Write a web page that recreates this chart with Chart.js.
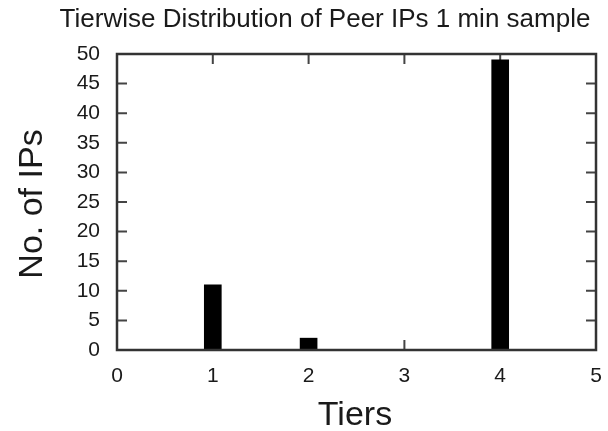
<!DOCTYPE html>
<html>
<head>
<meta charset="utf-8">
<script src="https://cdn.jsdelivr.net/npm/chart.js@4/dist/chart.umd.min.js"></script>
<style>
  html, body { margin: 0; padding: 0; background: #fff; }
  #wrap { width: 608px; height: 431px; }
</style>
</head>
<body>
<div id="wrap"><canvas id="c" width="608" height="431"></canvas></div>
<script>
// Peer IP counts per tier, one-minute sample
const tiers = [1, 2, 4];
const ipCounts = [11, 2, 49];
const xTicks = [0, 1, 2, 3, 4, 5];
const yTicks = [0, 5, 10, 15, 20, 25, 30, 35, 40, 45, 50];

const chartTitle = 'Tierwise Distribution of Peer IPs 1 min sample';
const xTitle = 'Tiers';
const yTitle = 'No. of IPs';

const FONT = '"Liberation Sans", Arial, Helvetica, sans-serif';
const INK = '#1a1a1a';

// Boxed frame with inward ticks on all four sides, gnuplot style
const framePlugin = {
  id: 'frame',
  beforeDatasetsDraw(chart) {
    const { ctx, chartArea: a, scales: { x, y } } = chart;
    ctx.save();
    ctx.strokeStyle = '#444';
    ctx.lineWidth = 2;
    ctx.beginPath();
    const tl = 10;
    yTicks.forEach(v => {
      const py = y.getPixelForValue(v);
      ctx.moveTo(a.left, py); ctx.lineTo(a.left + tl, py);
      ctx.moveTo(a.right, py); ctx.lineTo(a.right - tl, py);
    });
    xTicks.forEach(v => {
      const px = x.getPixelForValue(v);
      ctx.moveTo(px, a.bottom); ctx.lineTo(px, a.bottom - tl);
      ctx.moveTo(px, a.top); ctx.lineTo(px, a.top + tl);
    });
    ctx.stroke();
    ctx.restore();
  },
  afterDatasetsDraw(chart) {
    const { ctx, chartArea: a } = chart;
    ctx.save();
    ctx.strokeStyle = '#333';
    ctx.lineWidth = 2.5;
    ctx.strokeRect(a.left, a.top, a.right - a.left, a.bottom - a.top);
    ctx.restore();
  },
  afterDraw(chart) {
    const { ctx } = chart;
    ctx.save();
    ctx.fillStyle = INK;
    ctx.textAlign = 'center';
    ctx.textBaseline = 'alphabetic';
    ctx.font = '26px ' + FONT;
    ctx.fillText(chartTitle, 325, 27);
    ctx.font = '34px ' + FONT;
    ctx.fillText(xTitle, 355, 425);
    ctx.translate(42, 204);
    ctx.rotate(-Math.PI / 2);
    ctx.fillText(yTitle, 0, 0);
    ctx.restore();
  }
};

new Chart(document.getElementById('c'), {
  type: 'bar',
  data: {
    datasets: [{
      data: tiers.map((t, i) => ({ x: t, y: ipCounts[i] })),
      backgroundColor: '#000',
      borderColor: '#000',
      borderWidth: 0,
      barThickness: 17
    }]
  },
  options: {
    responsive: false,
    animation: false,
    devicePixelRatio: 1,
    layout: { padding: { top: 54, right: 12, left: 0, bottom: 0 } },
    plugins: {
      legend: { display: false },
      title: { display: false },
      tooltip: { enabled: false }
    },
    scales: {
      x: {
        type: 'linear',
        min: 0,
        max: 5,
        offset: false,
        afterFit(s) { s.height = 81; s.paddingLeft = 0; s.paddingRight = 0; },
        afterBuildTicks(s) { s.ticks = xTicks.map(v => ({ value: v })); },
        grid: { display: false, drawTicks: false },
        border: { display: false },
        ticks: { padding: 14, color: INK, font: { family: FONT, size: 21 } }
      },
      y: {
        min: 0,
        max: 50,
        afterFit(s) { s.width = 117; s.paddingTop = 0; s.paddingBottom = 0; },
        afterBuildTicks(s) { s.ticks = yTicks.map(v => ({ value: v })); },
        grid: { display: false, drawTicks: false },
        border: { display: false },
        ticks: { padding: 17, color: INK, font: { family: FONT, size: 21 } }
      }
    }
  },
  plugins: [framePlugin]
});
</script>
</body>
</html>
